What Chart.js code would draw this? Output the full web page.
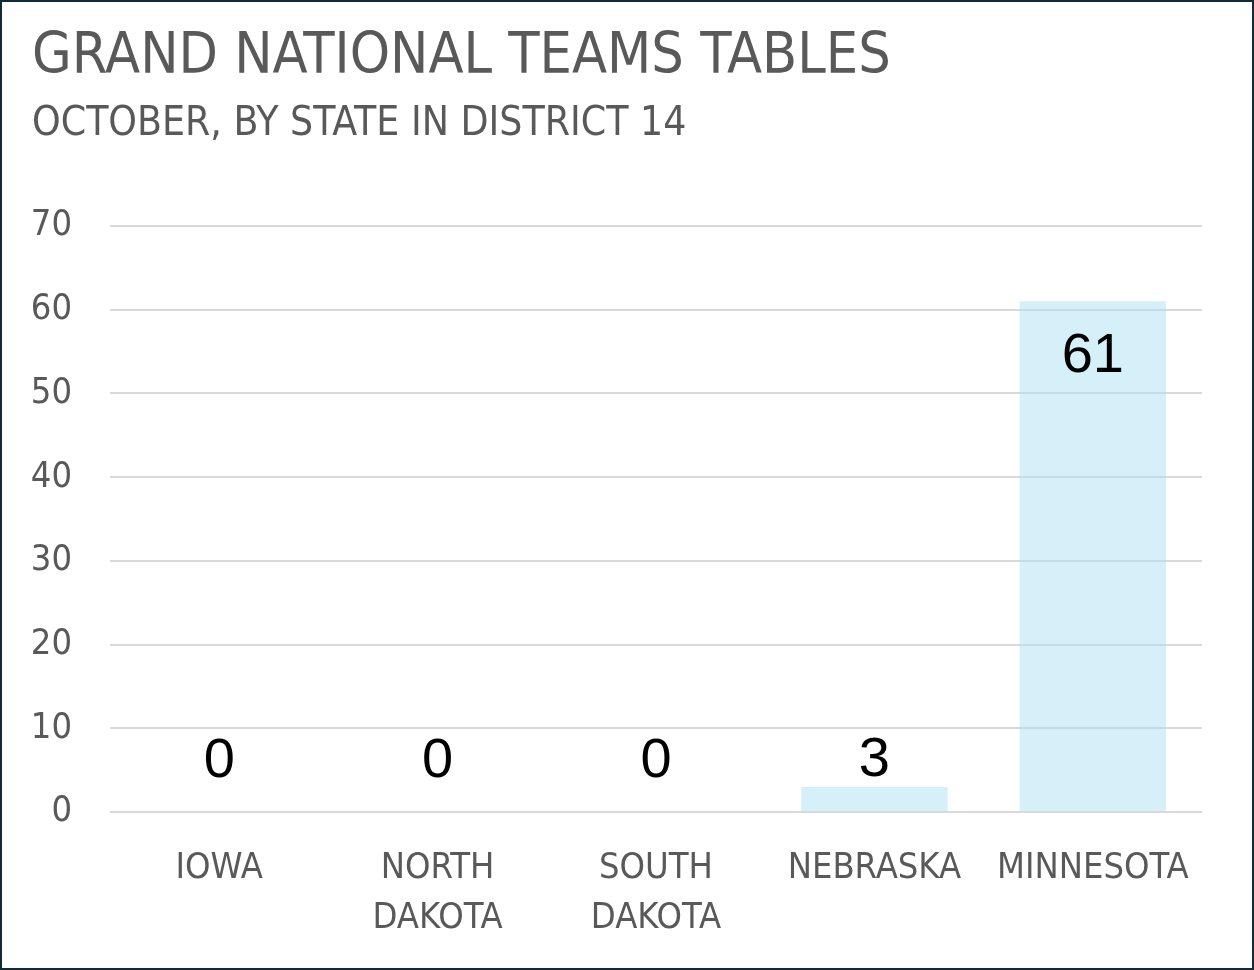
<!DOCTYPE html>
<html>
<head>
<meta charset="utf-8">
<script src="https://cdn.jsdelivr.net/npm/chart.js@4.4.1/dist/chart.umd.min.js"></script>
<style>
html,body{margin:0;padding:0;background:#fff;}
#wrap{width:1254px;height:970px;position:relative;}
canvas{display:block;}
</style>
</head>
<body>
<div id="wrap"><canvas id="c" width="1254" height="970"></canvas></div>
<script>
const categories = [["IOWA"], ["NORTH", "DAKOTA"], ["SOUTH", "DAKOTA"], ["NEBRASKA"], ["MINNESOTA"]];
const teamTables = [0, 0, 0, 3, 61];
const yTicks = [0, 10, 20, 30, 40, 50, 60, 70];
const titleText = "GRAND NATIONAL TEAMS TABLES";
const subtitleText = "OCTOBER, BY STATE IN DISTRICT 14";

const FONT = "'DejaVu Sans Condensed', 'Liberation Sans Narrow', 'Roboto', sans-serif";
const GREY = "#595959";

const valueLabels = {
  id: 'valueLabels',
  afterDatasetsDraw(chart) {
    const ctx = chart.ctx;
    const meta = chart.getDatasetMeta(0);
    ctx.save();
    ctx.font = "56px 'Liberation Sans', Arial, sans-serif";
    ctx.fillStyle = "#000";
    ctx.textAlign = "center";
    ctx.textBaseline = "middle";
    meta.data.forEach((bar, i) => {
      const y = Math.min(bar.y + 55, bar.base - 50);
      ctx.fillText(String(teamTables[i]), bar.x, y);
    });
    ctx.restore();
  }
};

const frame = {
  id: 'frame',
  afterDraw(chart) {
    const ctx = chart.ctx;
    ctx.save();
    ctx.strokeStyle = "#0f2b3a";
    ctx.lineWidth = 2;
    ctx.strokeRect(1, 1, chart.width - 2, chart.height - 2);
    ctx.restore();
  }
};

new Chart(document.getElementById('c'), {
  type: 'bar',
  data: {
    labels: categories,
    datasets: [{
      data: teamTables,
      backgroundColor: 'rgba(173,225,245,0.5)',
      borderWidth: 0,
      barPercentage: 0.67,
      categoryPercentage: 1.0
    }]
  },
  options: {
    responsive: false,
    animation: false,
    devicePixelRatio: 1,
    layout: { padding: { left: 32, right: 52, top: 0, bottom: 0 } },
    plugins: {
      legend: { display: false },
      tooltip: { enabled: false },
      title: {
        display: true, text: titleText, align: 'start', color: GREY,
        font: { family: FONT, size: 57, weight: 'normal', lineHeight: 1.2 },
        padding: { top: 24, bottom: 0 }
      },
      subtitle: {
        display: true, text: subtitleText, align: 'start', color: GREY,
        font: { family: FONT, size: 40.5, weight: 'normal', lineHeight: 1.2 },
        padding: { top: 8, bottom: 77 }
      }
    },
    scales: {
      x: {
        grid: { display: false, drawTicks: false },
        border: { display: false },
        ticks: {
          color: GREY, padding: 32,
          font: { family: FONT, size: 36, lineHeight: 1.39 },
          maxRotation: 0, autoSkip: false
        },
        afterFit(s) { s.height = 158; }
      },
      y: {
        min: 0, max: 70,
        afterBuildTicks(s) { s.ticks = yTicks.map(v => ({ value: v })); },
        grid: { color: '#d9d9d9', lineWidth: 2, drawTicks: false },
        border: { display: false },
        ticks: {
          color: GREY, padding: 38,
          font: { family: FONT, size: 36 }
        },
        afterFit(s) { s.width = 78; }
      }
    }
  },
  plugins: [valueLabels, frame]
});
</script>
</body>
</html>
